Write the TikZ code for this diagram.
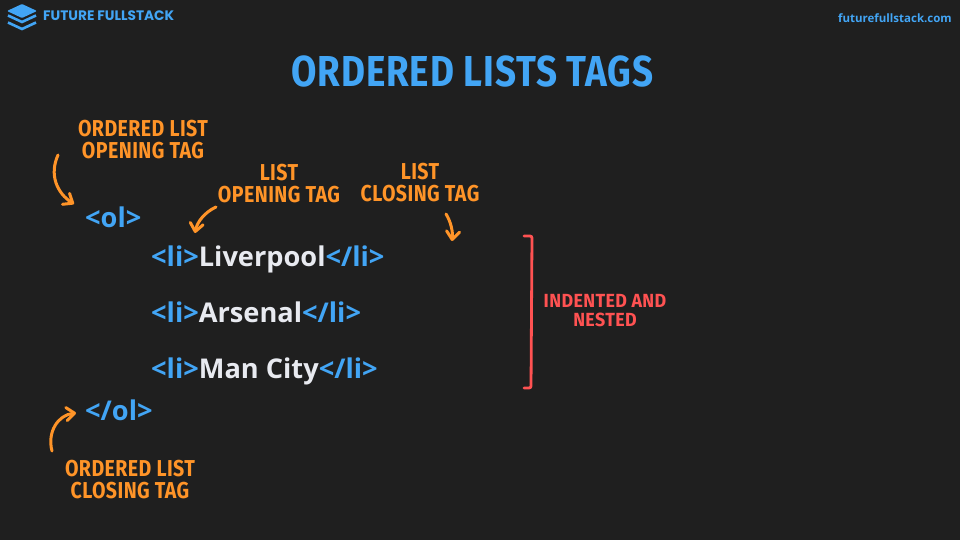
\documentclass[tikz,border=0pt]{standalone}
\usepackage{fontspec}
\usepackage{xcolor}
\usepackage{tikz}
\usetikzlibrary{arrows.meta,positioning}
\setmainfont{Open Sans}
\newfontfamily\handfont[FakeStretch=0.85,LetterSpace=2]{Fira Sans}
\newfontfamily\nestfont[FakeStretch=0.94,LetterSpace=2]{Fira Sans}
\newfontfamily\logofont{Poppins}
\definecolor{pagebg}{HTML}{1F1F1F}
\definecolor{tagblue}{HTML}{42A5F5}
\definecolor{noteorange}{HTML}{FF9428}
\definecolor{notered}{HTML}{FF5252}
\definecolor{itemwhite}{HTML}{E8EAF0}
\newcommand{\tagtxt}[1]{\textcolor{tagblue}{#1}}
\tikzset{
  codeline/.style={inner sep=0pt, text height=20pt, text depth=6pt, anchor=west,
    font=\fontsize{27.2}{30}\selectfont\bfseries, text=itemwhite},
  notebox/.style={inner sep=0pt, align=center, text=noteorange,
    font=\handfont\fontsize{23}{22}\selectfont\bfseries},
  arrw/.style={-{Straight Barb[length=8pt,width=13pt,round]}, line width=3pt,
    draw=noteorange, line cap=round},
}
\begin{document}
\begin{tikzpicture}[x=1pt,y=-1pt]
  \useasboundingbox (0,0) rectangle (960,540);
  \fill[pagebg] (0,0) rectangle (960,540);

  \fill[tagblue, rounded corners=1pt] (7,11) -- (22,4) -- (37,11) -- (22,18) -- cycle;
  \draw[tagblue, line width=2.6pt] (8,15.5) -- (22,22) -- (36,15.5);
  \draw[tagblue, line width=2.6pt] (8,22.5) -- (22,29) -- (36,22.5);

  \node[anchor=west, inner sep=0pt, text=tagblue, font=\logofont\fontsize{13.7}{15}\selectfont\bfseries]
    (brand) at (43,16) {FUTURE FULLSTACK};
  \node[anchor=east, inner sep=0pt, text=tagblue, font=\fontsize{11.5}{14}\selectfont\bfseries]
    (site) at (952,18) {futurefullstack.com};
  \node[inner sep=0pt, text=tagblue, font=\handfont\fontsize{43.3}{45}\selectfont\bfseries]
    (title) at (472.5,71) {ORDERED LISTS TAGS};

  \node[codeline] (olOpen) at (85,220.5) {\tagtxt{<ol>}};
  \node[codeline] (liOne) at (151,259) {\tagtxt{<li>}Liverpool\tagtxt{</li>}};
  \node[codeline, below right=30pt and 0pt of liOne.south west] (liTwo)
    {\tagtxt{<li>}Arsenal\tagtxt{</li>}};
  \node[codeline, below right=30pt and 0pt of liTwo.south west] (liThree)
    {\tagtxt{<li>}Man City\tagtxt{</li>}};
  \node[codeline] (olClose) at (85,413) {\tagtxt{</ol>}};

  \node[notebox] (olOpenNote) at (143,140) {ORDERED LIST\\OPENING TAG};
  \node[notebox] (liOpenNote) at (279,184) {LIST\\OPENING TAG};
  \node[notebox] (liCloseNote) at (420,183) {LIST\\CLOSING TAG};
  \node[notebox] (olCloseNote) at (130,480) {ORDERED LIST\\CLOSING TAG};
  \node[notebox, text=notered, font=\nestfont\fontsize{19}{19}\selectfont\bfseries]
    (nestNote) at (605,311) {INDENTED AND\\NESTED};

  \coordinate (olOpenFrom) at (58,155);
  \coordinate (olOpenTo) at (74,204);
  \coordinate (liOpenFrom) at (216,207);
  \coordinate (liOpenTo) at (195,233);
  \coordinate (liCloseFrom) at (446,214);
  \coordinate (liCloseTo) at (452,241);
  \coordinate (olCloseFrom) at (52,451);
  \coordinate (olCloseTo) at (76,413);

  \draw[arrw] (olOpenFrom) .. controls (49,175) and (57,193) .. (olOpenTo);
  \draw[arrw] (liOpenFrom) .. controls (205,212) and (197,222) .. (liOpenTo);
  \draw[arrw] (liCloseFrom) .. controls (451,222) and (453,232) .. (liCloseTo);
  \draw[arrw] (olCloseFrom) .. controls (47,432) and (58,415) .. (olCloseTo);

  \draw[notered, line width=2.8pt, rounded corners=2pt, line cap=round]
    (524,236) -- (532,236) -- (531,388) -- (524,388);
\end{tikzpicture}
\end{document}
